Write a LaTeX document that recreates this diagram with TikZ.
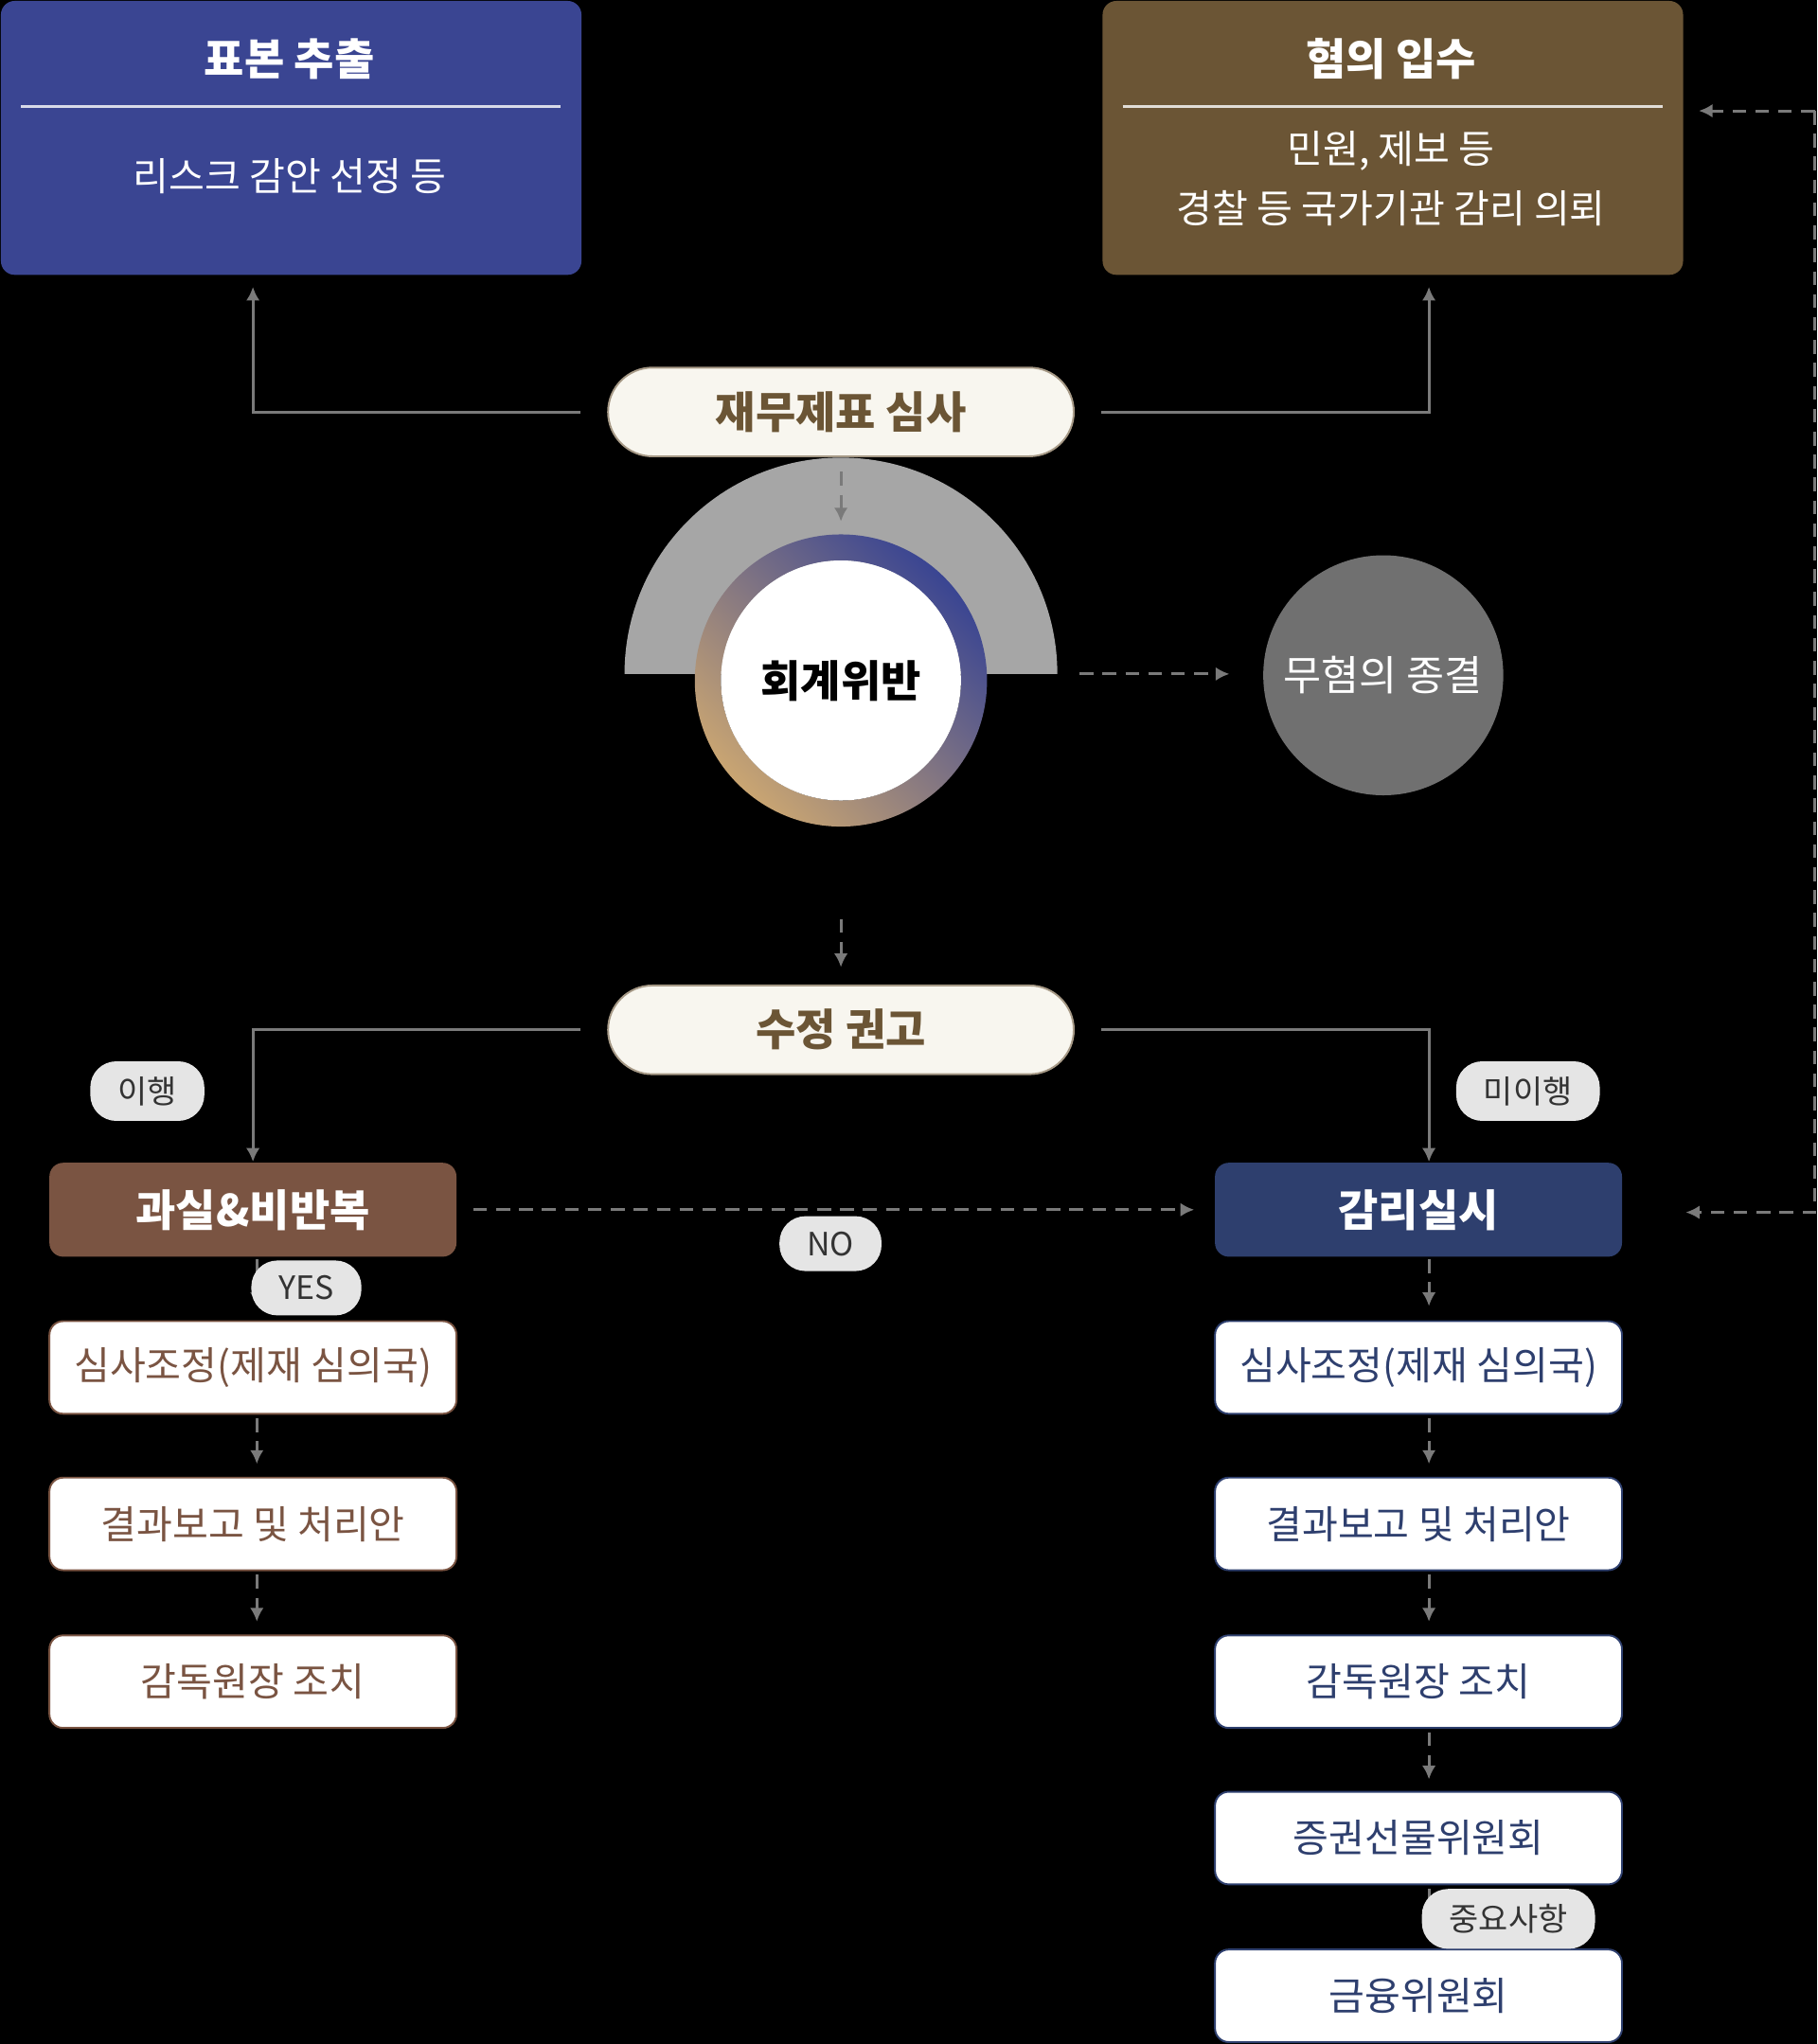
\documentclass[tikz,border=0pt]{standalone}
\usepackage{fontspec}
\setmainfont{Noto Sans CJK KR}
\usetikzlibrary{arrows.meta}
\definecolor{navyA}{HTML}{3A4592}
\definecolor{brownA}{HTML}{6B5535}
\definecolor{brownB}{HTML}{7A5442}
\definecolor{navyB}{HTML}{2E3F6E}
\definecolor{cream}{HTML}{F8F6EF}
\definecolor{lineg}{HTML}{7A7A7A}
\definecolor{tanA}{HTML}{C9A572}
\begin{document}
\begin{tikzpicture}[
    x=0.01cm,y=-0.01cm,
    flow/.style={draw=lineg,line width=0.6pt,-{Latex[length=3pt,width=3pt]}},
    dflow/.style={flow,densely dashed},
    topbox/.style={rectangle,rounded corners=3pt,minimum width=4.45cm,minimum height=2.1cm,anchor=north west},
    pill/.style={rectangle,rounded corners=0.34cm,draw=brownA!60,fill=cream,minimum width=3.57cm,minimum height=0.68cm,
        text=brownA,font=\fontsize{9.5}{11}\selectfont\bfseries},
    tag/.style={rectangle,rounded corners=0.2cm,fill=gray!20,text=gray!40!black,minimum height=0.42cm,inner xsep=6pt,
        font=\fontsize{7}{8}\selectfont},
    headbox/.style={rectangle,rounded corners=3pt,minimum width=3.12cm,minimum height=0.72cm,text=white,
        font=\fontsize{9.5}{11}\selectfont\bfseries},
    stepL/.style={rectangle,rounded corners=3pt,draw=brownB,fill=white,minimum width=3.12cm,minimum height=0.71cm,
        text=brownB,font=\fontsize{8.5}{10}\selectfont},
    stepR/.style={stepL,draw=navyB,text=navyB},
]
\fill[black] (0,0) rectangle (1394,1568);
\useasboundingbox (0,0) rectangle (1394,1568);

% top boxes
\node[topbox,fill=navyA] (sample) at (0,0) {};
\node[text=white,font=\fontsize{9.5}{11}\selectfont\bfseries] at (222,45) {표본 추출};
\draw[white!80!navyA,line width=0.6pt] (16,82) -- (430,82);
\node[text=white,font=\fontsize{8.5}{10}\selectfont] at (222,135) {리스크 감안 선정 등};

\node[topbox,fill=brownA] (tip) at (845,0) {};
\node[text=white,font=\fontsize{9.5}{11}\selectfont\bfseries] at (1067,45) {혐의 입수};
\draw[white!80!brownA,line width=0.6pt] (861,82) -- (1275,82);
\node[text=white,font=\fontsize{8.5}{13}\selectfont,align=center] at (1067,137) {민원, 제보 등\\경찰 등 국가기관 감리 의뢰};

% review
\node[pill] (review) at (645,316) {재무제표 심사};
\coordinate (sampleIn) at (194,220);
\coordinate (tipIn) at (1096,220);
\draw[flow] (445,316) -| (sampleIn);
\draw[flow] (845,316) -| (tipIn);

% violation
\fill[gray!70] (479,517) arc (180:360:166) -- cycle;
\shade[left color=navyA,right color=tanA,shading angle=-45,even odd rule] (645,522) circle (1.12cm) circle (0.92cm);
\node[circle,fill=white,minimum size=1.84cm,font=\fontsize{9.5}{11}\selectfont\bfseries] (viol) at (645,522) {회계위반};
\node[circle,fill=gray!75!black!90,minimum size=1.84cm,text=white,font=\fontsize{9}{11}\selectfont] (clear) at (1061,518) {무혐의 종결};
\draw[dflow] (645,362) -- (645,400);
\draw[dflow] (828,517) -- (943,517);
\draw[dflow] (645,705) -- (645,742);

% recommend
\node[pill] (fix) at (645,790) {수정 권고};
\node[tag] (done) at (113,837) {이행};
\node[tag] (notdone) at (1172,837) {미이행};

\node[headbox,fill=brownB] (minor) at (194,928) {과실\&비반복};
\node[headbox,fill=navyB] (audit) at (1088,928) {감리실시};
\draw[flow] (445,790) -| (minor.north);
\draw[flow] (845,790) -| ([xshift=0.08cm]audit.north);
\draw[dflow] (363,928) -- (916,928);
\node[tag] (no) at (637,954) {NO};
\draw[dflow] (1392,85) -- (1303,85);
\draw[dflow] (1392,85) -- (1392,930) -- (1293,930);

% left column
\node[stepL] (l1) at (194,1049) {심사조정(제재 심의국)};
\node[stepL] (l2) at (194,1169) {결과보고 및 처리안};
\node[stepL] (l3) at (194,1290) {감독원장 조치};
\draw[dflow] (197,966) -- (197,1002);
\node[tag] (yes) at (235,988) {YES};
\draw[dflow] (197,1088) -- (197,1123);
\draw[dflow] (197,1208) -- (197,1244);

% right column
\node[stepR] (r1) at (1088,1049) {심사조정(제재 심의국)};
\node[stepR] (r2) at (1088,1169) {결과보고 및 처리안};
\node[stepR] (r3) at (1088,1290) {감독원장 조치};
\node[stepR] (r4) at (1088,1410) {증권선물위원회};
\node[stepR] (r5) at (1088,1531) {금융위원회};
\draw[dflow] (1096,966) -- (1096,1002);
\draw[dflow] (1096,1088) -- (1096,1123);
\draw[dflow] (1096,1208) -- (1096,1244);
\draw[dflow] (1096,1329) -- (1096,1365);
\draw[dflow] (1096,1449) -- (1096,1485);
\node[tag] (major) at (1157,1472) {중요사항};
\end{tikzpicture}
\end{document}
